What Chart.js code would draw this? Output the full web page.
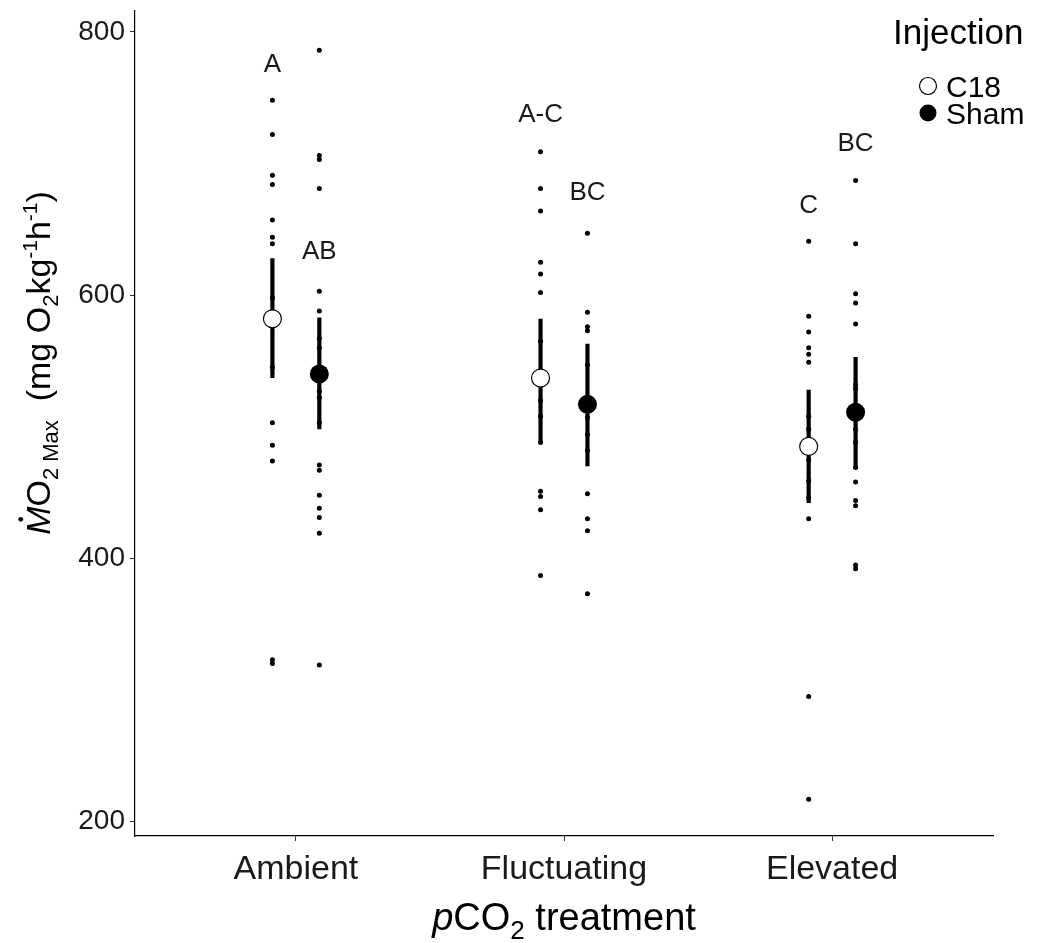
<!DOCTYPE html>
<html>
<head>
<meta charset="utf-8">
<script src="https://cdn.jsdelivr.net/npm/chart.js@4.4.1/dist/chart.umd.min.js"></script>
<style>
  html, body { margin: 0; padding: 0; background: #fff; }
</style>
</head>
<body>
<canvas id="mo2-chart" width="1041" height="943"></canvas>
<script>
const treatments = ['Ambient', 'Fluctuating', 'Elevated'];
const injections = ['C18', 'Sham'];

// individual fish MO2max, mg O2 kg-1 h-1
const ambientC18 = [748, 722, 691, 684, 657, 644, 639, 598, 545, 503, 486, 474, 323, 320];
const ambientSham = [786, 706, 703, 681, 603, 588, 567, 560, 527, 522, 503, 471, 467, 448, 438, 431, 419, 319];
const fluctuatingC18 = [709, 681, 664, 625, 616, 602, 565, 520, 508, 488, 451, 447, 437, 387];
const fluctuatingSham = [647, 587, 576, 573, 547, 507, 494, 482, 449, 430, 421, 373];
const elevatedC18 = [641, 584, 572, 560, 555, 549, 508, 498, 475, 459, 446, 430, 295, 217];
const elevatedSham = [687, 639, 601, 594, 578, 532, 529, 498, 488, 469, 458, 444, 440, 395, 392];

// model means with 95% CI
const meanC18 = [582, 537, 485];
const lowerC18 = [537, 488, 442];
const upperC18 = [628, 582, 528];
const meanSham = [540, 517, 511];
const lowerSham = [498, 470, 468];
const upperSham = [583, 563, 553];

// compact letter display and the y value each letter sits at
const lettersC18 = ['A', 'A-C', 'C'];
const lettersSham = ['AB', 'BC', 'BC'];
const letterValC18 = [775, 737, 668];
const letterValSham = [633, 678, 715];

const yTicks = [200, 400, 600, 800];

const FONT = "'Liberation Sans', Arial, sans-serif";
const dodge = 0.0875;

const rawC18 = [ambientC18, fluctuatingC18, elevatedC18];
const rawSham = [ambientSham, fluctuatingSham, elevatedSham];

function rawPoints(groups, offset) {
  const pts = [];
  groups.forEach((vals, i) => vals.forEach(v => pts.push({ x: i + 1 + offset, y: v })));
  return pts;
}

function errorBars(lower, upper, offset) {
  return lower.map((lo, i) => ({
    type: 'line',
    data: [{ x: i + 1 + offset, y: lo }, { x: i + 1 + offset, y: upper[i] }],
    borderColor: '#000',
    borderWidth: 4.2,
    pointRadius: 0,
    showLine: true,
    order: 2
  }));
}

const datasets = [
  {
    label: 'C18',
    data: meanC18.map((v, i) => ({ x: i + 1 - dodge, y: v })),
    pointRadius: 9,
    backgroundColor: '#fff',
    borderColor: '#000',
    borderWidth: 1.2,
    order: 1
  },
  {
    label: 'Sham',
    data: meanSham.map((v, i) => ({ x: i + 1 + dodge, y: v })),
    pointRadius: 9.5,
    backgroundColor: '#000',
    borderColor: '#000',
    borderWidth: 0,
    order: 1
  },
  ...errorBars(lowerC18, upperC18, -dodge),
  ...errorBars(lowerSham, upperSham, dodge),
  {
    label: 'rawC18',
    data: rawPoints(rawC18, -dodge),
    pointRadius: 2.5,
    backgroundColor: '#000',
    borderWidth: 0,
    order: 3
  },
  {
    label: 'rawSham',
    data: rawPoints(rawSham, dodge),
    pointRadius: 2.5,
    backgroundColor: '#000',
    borderWidth: 0,
    order: 3
  }
];

// text made of runs, for sub/superscripts
function drawRuns(ctx, runs, cx, cy, rotate) {
  ctx.save();
  ctx.translate(cx, cy);
  if (rotate) ctx.rotate(-Math.PI / 2);
  ctx.textBaseline = 'alphabetic';
  ctx.textAlign = 'left';
  ctx.fillStyle = '#000';
  let total = 0;
  runs.forEach(r => {
    ctx.font = `${r.italic ? 'italic ' : ''}${r.size}px ${FONT}`;
    r.w = ctx.measureText(r.text).width;
    total += r.w;
  });
  let x = -total / 2;
  runs.forEach(r => {
    ctx.font = `${r.italic ? 'italic ' : ''}${r.size}px ${FONT}`;
    ctx.fillText(r.text, x, r.dy || 0);
    if (r.dot) {
      ctx.beginPath();
      ctx.arc(x + r.w * 0.55, -r.size * 0.86, 2.4, 0, Math.PI * 2);
      ctx.fill();
    }
    x += r.w;
  });
  ctx.restore();
}

const decorations = {
  id: 'decorations',
  afterDatasetsDraw(chart) {
    const { ctx, scales: { x, y } } = chart;
    ctx.save();
    ctx.fillStyle = '#1a1a1a';
    ctx.font = `26px ${FONT}`;
    ctx.textAlign = 'center';
    ctx.textBaseline = 'middle';
    lettersC18.forEach((t, i) => ctx.fillText(t, x.getPixelForValue(i + 1 - dodge), y.getPixelForValue(letterValC18[i])));
    lettersSham.forEach((t, i) => ctx.fillText(t, x.getPixelForValue(i + 1 + dodge), y.getPixelForValue(letterValSham[i])));
    ctx.restore();
  },
  afterDraw(chart) {
    const ctx = chart.ctx;
    // y axis title
    drawRuns(ctx, [
      { text: 'M', size: 34, italic: true, dot: true },
      { text: 'O', size: 34 },
      { text: '2 Max', size: 22, dy: 8 },
      { text: '  (mg O', size: 34 },
      { text: '2', size: 22, dy: 8 },
      { text: 'kg', size: 34 },
      { text: '-1', size: 21, dy: -13 },
      { text: 'h', size: 34 },
      { text: '-1', size: 21, dy: -13 },
      { text: ')', size: 34 }
    ], 50, 363, true);
    // x axis title
    drawRuns(ctx, [
      { text: 'p', size: 38, italic: true },
      { text: 'CO', size: 38 },
      { text: '2', size: 26, dy: 9 },
      { text: ' treatment', size: 38 }
    ], 564, 930, false);

    // legend
    ctx.save();
    ctx.fillStyle = '#000';
    ctx.textBaseline = 'alphabetic';
    ctx.textAlign = 'left';
    ctx.font = `35px ${FONT}`;
    ctx.fillText('Injection', 893, 44);
    ctx.font = `30px ${FONT}`;
    injections.forEach((name, i) => {
      const cy = 86 + i * 27;
      ctx.beginPath();
      ctx.arc(928, cy, 8.5, 0, Math.PI * 2);
      if (i === 0) {
        ctx.fillStyle = '#fff';
        ctx.fill();
        ctx.lineWidth = 1.2;
        ctx.strokeStyle = '#000';
        ctx.stroke();
      } else {
        ctx.fillStyle = '#000';
        ctx.fill();
      }
      ctx.fillStyle = '#000';
      ctx.fillText(name, 946, cy + 11);
    });
    ctx.restore();
  }
};

new Chart(document.getElementById('mo2-chart'), {
  type: 'scatter',
  data: { datasets },
  plugins: [decorations],
  options: {
    responsive: false,
    animation: false,
    layout: { padding: { top: 10, right: 48, left: 0, bottom: 0 } },
    plugins: { legend: { display: false }, tooltip: { enabled: false } },
    scales: {
      x: {
        type: 'linear',
        min: 0.4,
        max: 3.6,
        afterBuildTicks: s => { s.ticks = [1, 2, 3].map(v => ({ value: v })); },
        afterFit: s => { s.height = 107; s.paddingLeft = 0; s.paddingRight = 0; },
        ticks: {
          callback: v => treatments[v - 1],
          color: '#1a1a1a',
          font: { family: FONT, size: 34 },
          padding: 8,
          maxRotation: 0
        },
        grid: { drawOnChartArea: false, drawTicks: true, tickLength: 5, color: '#333' },
        border: { display: true, color: '#000', width: 1.2 }
      },
      y: {
        min: 189,
        max: 816.5,
        afterBuildTicks: s => { s.ticks = yTicks.map(v => ({ value: v })); },
        afterFit: s => { s.width = 135; s.paddingTop = 0; s.paddingBottom = 0; },
        ticks: {
          color: '#1a1a1a',
          font: { family: FONT, size: 28 },
          padding: 5
        },
        grid: { drawOnChartArea: false, drawTicks: true, tickLength: 5, color: '#333' },
        border: { display: true, color: '#000', width: 1.2 }
      }
    }
  }
});
</script>
</body>
</html>
